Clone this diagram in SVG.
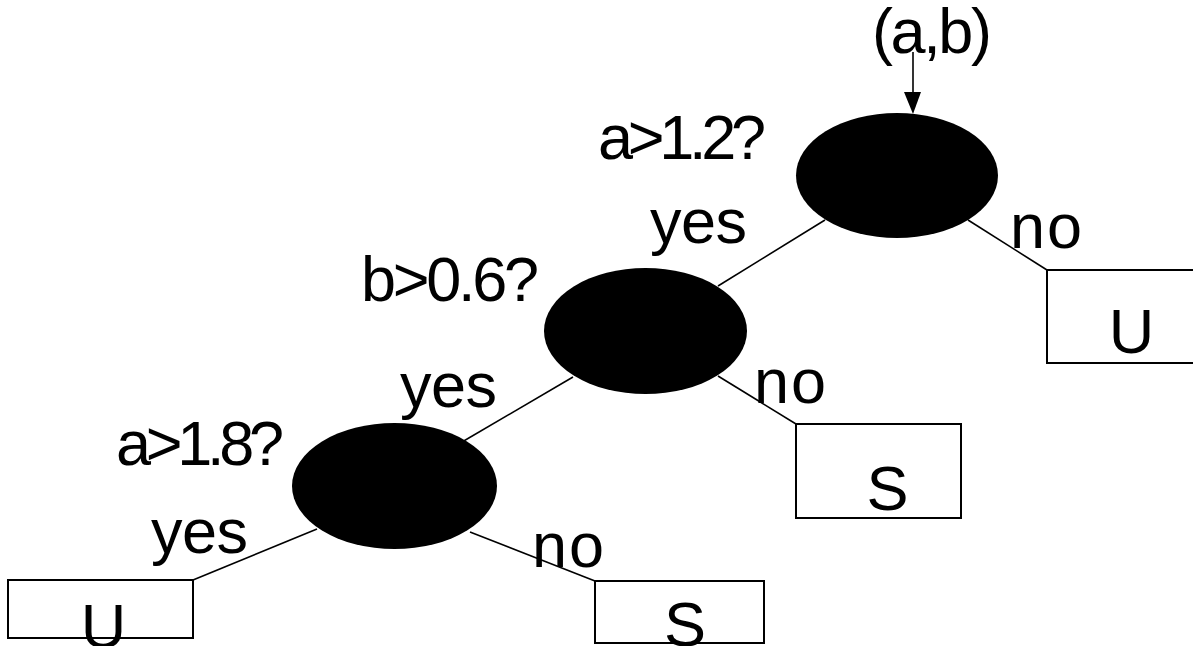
<svg xmlns="http://www.w3.org/2000/svg" width="1193" height="646" viewBox="0 0 1193 646">
<style>
  .t { font-family: "Liberation Sans", Arial, sans-serif; font-size: 63px; fill: #000; }
  .c { text-anchor: middle; }
  .node { fill: #000; stroke: none; }
  .leaf { fill: #fff; stroke: #000; stroke-width: 2; }
  .edge { stroke: #000; stroke-width: 1.6; fill: none; }
</style>
<defs>
  <marker id="arrow" markerWidth="16" markerHeight="22" refX="8" refY="21" orient="auto" markerUnits="userSpaceOnUse" viewBox="0 0 16 22">
    <path d="M0,0 L16,0 L8,22 Z" fill="#000" transform="rotate(0)"/>
  </marker>
</defs>
<rect width="1193" height="646" fill="#fff"/>
<g id="connectors">
  <line class="edge" x1="913" y1="52" x2="913" y2="92"/>
  <polygon points="904,92 921,92 913,114" fill="#000"/>
  <line class="edge" x1="825" y1="220" x2="718" y2="286"/>
  <line class="edge" x1="968" y1="220" x2="1047" y2="270"/>
  <line class="edge" x1="573" y1="377" x2="462" y2="442"/>
  <line class="edge" x1="718" y1="376" x2="796" y2="424"/>
  <line class="edge" x1="317" y1="529" x2="193" y2="580"/>
  <line class="edge" x1="470" y1="532" x2="595" y2="581"/>
</g>
<g id="input">
  <text class="t" x="872" y="53" textLength="120" lengthAdjust="spacing">(a,b)</text>
</g>
<g id="n1">
  <ellipse class="node" cx="897" cy="175.5" rx="101" ry="62.5"/>
  <text class="t" x="598" y="159" textLength="168" lengthAdjust="spacing">a&gt;1.2?</text>
</g>
<g id="n2">
  <ellipse class="node" cx="645.5" cy="331" rx="101.5" ry="63"/>
  <text class="t" x="361" y="301" textLength="178" lengthAdjust="spacing">b&gt;0.6?</text>
</g>
<g id="n3">
  <ellipse class="node" cx="394.5" cy="486" rx="102.5" ry="63"/>
  <text class="t" x="116" y="465" textLength="168" lengthAdjust="spacing">a&gt;1.8?</text>
</g>
<g id="labels">
  <text class="t" x="650" y="243" textLength="97" lengthAdjust="spacing">yes</text>
  <text class="t" x="1010" y="248" textLength="72" lengthAdjust="spacing">no</text>
  <text class="t" x="400" y="407" textLength="97" lengthAdjust="spacing">yes</text>
  <text class="t" x="754" y="403" textLength="72" lengthAdjust="spacing">no</text>
  <text class="t" x="151" y="553" textLength="97" lengthAdjust="spacing">yes</text>
  <text class="t" x="532" y="567" textLength="72" lengthAdjust="spacing">no</text>
</g>
<g id="leaf1">
  <path class="leaf" d="M1194,270 L1047,270 L1047,363 L1194,363"/>
  <text class="t c" x="1131.5" y="353">U</text>
</g>
<g id="leaf2">
  <rect class="leaf" x="796" y="424" width="165" height="94"/>
  <text class="t c" x="887.5" y="510">S</text>
</g>
<g id="leaf3">
  <rect class="leaf" x="595" y="581" width="169" height="62"/>
  <text class="t c" x="685" y="646">S</text>
</g>
<g id="leaf4">
  <rect class="leaf" x="8" y="580" width="185" height="58"/>
  <text class="t c" x="103.5" y="648">U</text>
</g>
</svg>
